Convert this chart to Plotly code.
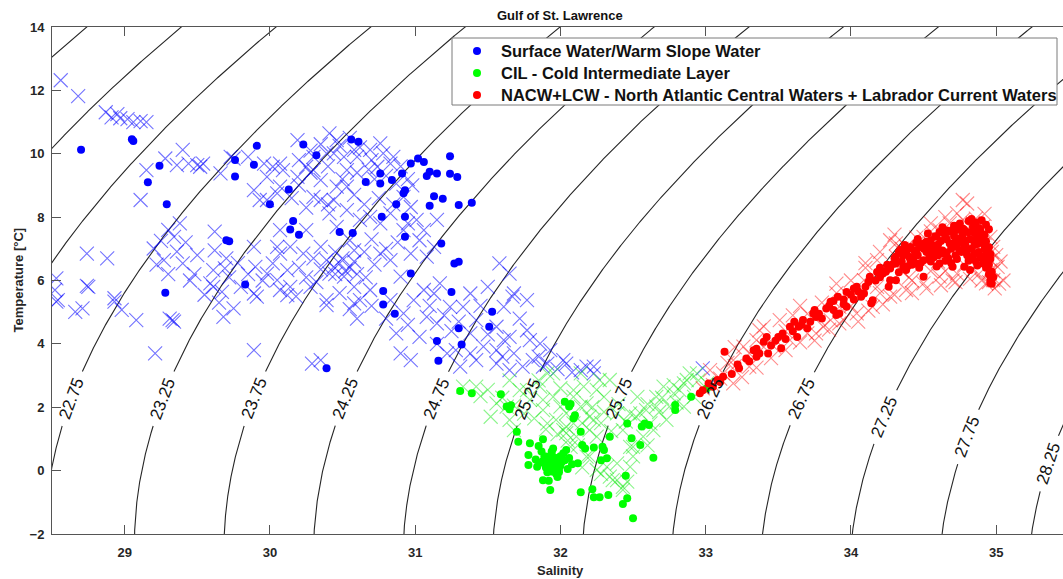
import numpy as np
import plotly.graph_objects as go

# ---------------- data (salinity, temperature) ----------------
blue_dots = [
    (28.70,10.13),(29.05,10.46),(29.06,10.40),(29.16,9.10),(29.24,9.62),(29.29,8.41),(29.76,9.80),(29.76,9.28),
    (29.91,10.25),(29.89,9.65),(30.00,8.41),(29.70,7.27),(29.72,7.24),(30.13,8.87),(30.16,7.88),(30.14,7.61),
    (30.20,7.44),(30.23,10.29),(30.32,9.95),(30.48,7.53),(30.57,7.50),(30.56,10.45),(30.61,10.38),(29.83,5.87),
    (29.28,5.61),(30.39,3.23),(30.66,9.11),(30.76,9.38),(30.76,9.06),(30.84,9.17),(30.91,9.38),(30.97,9.69),
    (31.02,9.85),(31.06,9.74),(31.08,9.30),(31.10,9.43),(31.15,9.38),(31.24,9.92),(31.24,9.37),(31.29,9.27),
    (30.93,8.85),(30.92,8.75),(31.13,8.66),(31.19,8.58),(31.10,8.36),(31.30,8.38),(31.39,8.45),(30.87,8.41),
    (30.77,8.01),(30.93,8.01),(30.93,7.38),(31.18,7.17),(31.27,6.54),(31.30,6.59),(30.97,6.22),(30.78,5.67),
    (31.25,5.64),(30.78,5.24),(30.86,4.95),(31.53,5.01),(31.30,4.49),(31.51,4.54),(31.15,4.09),(31.32,3.98),
    (31.16,3.47),
]
blue_crosses = [
    (28.56,12.32),(28.68,11.82),(28.87,11.31),(28.91,11.15),(28.95,11.25),(28.97,11.12),(29.02,11.09),(29.06,11.00),
    (29.11,11.03),(29.15,11.00),(29.11,8.54),(29.15,9.48),(29.28,9.85),(29.40,10.12),(29.44,9.69),(29.52,9.59),
    (29.36,9.64),(29.66,9.38),(29.73,9.90),(29.85,9.90),(29.96,9.69),(30.02,9.59),(29.98,9.27),(30.09,9.48),
    (30.19,9.27),(30.25,9.59),(30.30,9.48),(30.35,9.17),(30.41,10.64),(30.46,10.43),(30.39,10.01),(30.51,9.90),
    (30.58,10.12),(30.44,8.54),(30.53,8.96),(29.89,8.85),(29.93,8.54),(30.05,8.75),(30.30,8.64),(30.41,8.12),
    (28.74,6.85),(28.88,6.70),(28.53,6.07),(28.74,5.83),(28.54,5.38),(28.66,5.01),(28.71,5.12),(28.93,5.44),
    (28.98,5.07),(29.08,4.75),(29.21,3.70),(29.33,4.75),(29.34,4.70),(29.50,9.64),(29.54,9.69),(29.75,9.85),
    (29.98,8.54),(29.38,7.80),(29.34,7.38),(29.20,7.01),(29.36,6.91),(29.40,6.54),(29.27,6.64),(29.62,7.54),
    (29.61,6.33),(29.69,6.38),(29.59,5.91),(29.67,5.64),(29.75,5.12),(29.89,7.06),(29.90,6.43),(29.98,6.22),
    (30.02,6.54),(30.07,6.85),(29.89,5.59),(30.07,5.70),(29.89,3.80),(28.52,5.70),(28.53,5.33),(28.75,5.80),
    (28.93,5.33),(29.31,4.80),(29.61,5.80),(29.68,4.85),(29.91,5.49),(30.12,5.54),(30.29,3.38),(30.39,5.22),
    (30.58,5.28),(30.60,4.80),(30.07,9.69),(30.07,8.96),(30.19,10.43),(30.28,9.40),(30.44,10.01),(30.35,8.54),
    (30.46,8.96),(30.53,9.48),(30.60,9.90),(30.69,10.12),(30.76,10.33),(30.78,10.01),(30.83,9.69),(30.74,9.59),
    (30.87,9.06),(30.92,8.64),(30.97,8.32),(30.83,8.12),(30.76,7.80),(30.69,8.01),(30.62,7.91),(31.01,7.91),
    (31.06,7.59),(30.92,7.59),(30.53,8.22),(30.46,7.69),(30.55,7.27),(30.25,7.59),(30.07,7.59),(30.05,7.06),
    (30.14,7.06),(30.23,6.85),(30.35,7.06),(30.39,6.64),(30.44,6.43),(30.48,6.54),(30.41,6.22),(30.51,6.12),
    (30.12,6.33),(30.14,5.80),(30.05,6.01),(30.28,5.80),(30.39,5.38),(30.58,5.80),(30.62,5.38),(30.69,5.70),
    (30.76,6.85),(30.83,6.64),(30.90,6.12),(30.97,6.85),(31.03,7.27),(31.08,6.75),(31.13,7.06),(31.15,7.91),
    (30.83,5.38),(30.92,4.96),(30.99,5.38),(31.06,5.70),(31.13,5.59),(31.17,5.91),(31.24,5.17),(31.08,4.85),
    (31.15,4.65),(31.03,4.22),(30.87,4.33),(31.38,5.59),(31.33,5.17),(31.42,4.75),(31.38,4.33),(31.47,3.91),
    (31.58,6.54),(31.65,6.22),(31.68,5.59),(31.61,5.17),(31.56,4.54),(31.65,4.22),(30.35,3.49),(31.38,3.70),
    (31.22,3.70),(30.97,3.49),(30.90,3.70),(31.61,4.12),(31.68,3.70),(31.79,4.12),(31.81,3.49),(31.56,3.38),
    (31.42,3.49),(31.31,3.28),(31.65,3.17),(31.74,3.28),(31.93,3.80),(31.88,3.28),(32.02,3.49),(32.14,3.17),
    (32.18,3.28),(32.23,3.28),(32.98,3.23),(31.77,5.38),(31.67,5.49),(31.77,4.43),(31.86,4.01),(31.91,3.38),
    (32.04,3.38),(32.23,3.07),(31.56,3.80),(30.50,6.70),(30.55,6.40),(30.58,6.60),(30.45,6.90),(30.60,6.20),
    (30.52,6.30),(30.80,9.30),(30.90,9.60),(30.95,9.20),(30.85,9.90),(30.70,9.80),(30.98,9.00),
    (29.62,6.95),(29.70,6.70),(29.78,6.55),(29.85,6.20),(29.95,6.00),(29.72,6.10),(29.80,5.80),(29.65,5.30),
    (29.55,5.55),(29.48,6.20),(29.45,6.00),(29.30,6.20),(29.22,6.50),(29.25,7.25),(29.30,7.60),(29.42,7.20),
    (29.50,6.80),(30.20,9.80),(30.28,10.10),(30.35,10.30),(30.48,10.25),(30.55,10.50),(30.62,10.20),(30.68,9.50),
    (30.72,9.20),(30.60,9.40),(30.50,9.20),(30.40,9.60),(30.30,9.90),(30.20,9.00),(30.15,8.60),(30.25,8.30),
    (30.40,8.40),(30.58,8.70),(30.65,8.40),(30.75,8.60),(30.85,8.40),(30.95,7.80),(30.88,7.20),(30.80,7.00),
    (30.70,7.30),(30.65,6.90),(30.72,6.50),(30.66,6.10),(30.58,6.95),(30.45,6.20),(30.35,6.35),(30.30,6.70),
    (30.20,6.40),(30.25,6.10),(30.32,5.95),(30.18,5.50),(30.48,5.60),(30.55,5.10),(30.70,5.20),(30.80,4.80),
    (30.95,4.60),(31.10,5.20),(31.20,4.90),(31.30,4.70),(31.45,5.20),(31.50,5.80),(31.25,4.40),(31.15,4.00),
    (31.28,3.80),(31.50,4.30),(31.72,4.80),(31.60,3.60),(31.85,3.60),(31.98,3.20),(32.08,3.10),
]
green_dots = [
    (31.31,2.51),(31.39,2.44),(31.59,2.41),(31.63,2.02),(31.65,1.94),(32.03,2.17),(32.06,2.02),(32.09,1.65),
    (32.14,1.23),(31.70,1.23),(31.71,0.91),(31.79,0.86),(31.85,0.78),(31.88,0.99),(31.78,0.49),(31.78,0.18),
    (31.84,0.12),(31.91,0.44),(31.93,0.28),(31.96,0.18),(31.99,0.02),(31.94,-0.03),(32.01,0.28),(32.03,0.33),
    (32.04,0.65),(31.88,-0.30),(31.92,-0.32),(31.93,-0.61),(32.08,0.20),(32.12,0.23),(32.15,0.81),(32.17,0.70),
    (32.23,0.73),(32.30,0.65),(32.32,0.39),(32.28,0.33),(32.34,1.07),(32.46,1.49),(32.49,1.02),(32.55,0.81),
    (32.64,0.41),(32.45,-0.16),(32.14,-0.68),(32.22,-0.59),(32.23,-0.84),(32.27,-0.84),(32.33,-0.77),(32.46,-0.87),
    (32.43,-1.05),(32.50,-1.50),(32.58,1.49),(32.61,1.44),(32.79,1.91),(32.79,2.07),(32.90,2.33),(33.01,2.60),
    (31.90,0.20),(31.95,0.35),(31.98,0.10),(31.92,0.05),(31.97,-0.10),(32.00,0.45),(31.88,0.30),(31.94,0.52),
    (32.07,2.10),(32.10,1.75),(32.29,0.75),(32.56,1.39),(31.66,2.06),
    (31.90,0.10),(31.93,0.15),(31.95,0.25),(31.97,0.40),(31.99,0.30),(32.00,0.15),(31.96,0.05),(31.91,-0.05),
    (31.94,0.60),(32.02,0.55),(31.89,0.45),(31.86,0.25),(31.98,-0.20),(32.05,0.05),(31.92,0.35),(31.87,0.60),
    (32.06,0.40),(31.83,0.35),(31.95,0.70),(31.99,-0.05),
]
green_crosses = [
    (31.42,2.65),(31.56,2.12),(31.52,1.70),(31.65,1.60),(31.72,2.54),(31.79,2.23),(31.86,2.65),(31.88,1.91),
    (31.95,2.33),(31.97,1.60),(32.02,1.28),(32.04,1.81),(32.09,1.49),(32.14,2.02),(32.16,2.65),(32.20,1.70),
    (32.25,1.07),(32.30,2.33),(32.34,2.86),(32.39,1.81),(32.43,1.28),(32.48,0.75),(32.39,0.23),(32.34,-0.19),
    (32.48,0.12),(32.53,2.33),(32.59,1.91),(32.66,2.33),(32.71,2.65),(32.75,2.02),(32.82,2.54),(32.87,2.86),
    (32.94,3.07),(32.92,2.33),(33.01,2.75),(32.57,1.07),(32.62,1.49),(32.18,0.44),(32.25,0.02),(32.07,0.75),
    (32.39,-0.30),(32.43,-0.61),(31.68,1.28),(31.33,2.65),(31.95,3.07),(32.14,3.07),(32.27,2.86),(32.48,1.81),
    (32.73,1.60),(32.85,2.02),(32.09,2.33),(32.00,2.02),(32.04,1.39),(32.11,1.07),(32.20,1.28),(31.91,1.49),
    (31.91,3.07),(32.09,2.54),(32.04,1.18),(32.23,1.60),(32.32,0.12),(32.36,-0.30),(32.43,-0.51),(32.55,1.81),
    (32.66,2.02),(32.78,2.44),(32.85,2.75),(32.89,3.07),(32.64,1.28),(32.50,0.75),(32.18,2.12),(31.88,2.23),
    (31.77,2.54),(31.63,2.02),
    (31.45,2.35),(31.50,2.55),(31.60,2.30),(31.68,2.05),(31.75,1.80),(31.82,1.65),(31.90,1.30),(31.98,1.15),
    (32.05,0.95),(32.12,0.80),(32.15,1.50),(32.22,2.00),(32.28,1.50),(32.35,1.25),(32.45,1.55),(32.52,1.70),
    (32.60,2.10),(32.70,2.30),(32.78,2.70),(32.95,2.85),(32.68,1.85),(32.80,2.15),(32.40,2.10),(32.30,1.85),
    (31.85,2.85),(31.65,2.85),(32.00,2.60),(32.25,2.55),(32.50,0.45),(32.60,0.80),(32.20,0.45),(32.28,-0.10),
    (32.46,-0.35),(32.15,0.10),
]
red_dots = [
    (33.13,3.75),(33.02,2.75),(33.08,2.86),(33.12,2.96),(33.23,3.23),(33.28,3.54),(33.33,3.80),(33.37,3.70),
    (33.40,4.07),(33.43,3.70),(33.50,4.22),(33.53,4.33),(33.52,3.86),(33.58,4.54),(33.63,4.22),(33.61,4.70),
    (33.67,4.75),(33.70,4.49),(33.74,4.96),(33.75,5.07),(33.83,5.12),(33.86,5.33),(33.91,5.49),(33.90,4.91),
    (33.92,4.96),(33.97,5.64),(34.02,5.75),(34.04,5.80),(34.07,5.49),(34.09,5.59),(34.14,5.28),(34.15,5.38),
    (34.13,6.12),(34.18,6.27),(34.22,6.22),(34.27,6.38),(34.26,5.80),(34.31,6.54),(34.36,6.80),(34.38,6.91),
    (34.41,6.64),(34.45,6.96),(34.50,7.17),(34.52,7.22),(34.54,6.75),(34.59,7.38),(34.64,7.49),(34.68,7.54),
    (34.73,7.59),(34.77,7.64),(34.83,7.94),(34.90,7.90),(34.87,7.38),(34.91,7.17),(34.93,6.85),(34.64,6.85),
    (34.50,6.64),(34.38,6.33),(34.73,7.06),(34.80,6.96),(34.84,6.75),(34.41,7.06),(34.54,7.06),(34.31,6.01),
    (34.50,6.12),(34.61,6.54),(34.70,6.43),(34.82,6.33),(34.91,6.54),(34.89,7.54),(34.75,7.27),(34.68,7.17),
    (34.59,6.96),(34.45,6.54),(34.36,6.43),(34.27,6.01),(33.97,5.17),(33.88,5.07),(33.76,4.85),(33.64,4.54),
    (33.42,4.22),(33.35,3.59),(32.98,2.54),(32.96,2.44),
    (34.35,6.60),(34.40,6.75),(34.42,6.50),(34.46,6.80),(34.48,6.55),(34.52,6.90),(34.55,6.60),(34.57,7.10),
    (34.60,6.80),(34.62,7.25),(34.63,6.95),(34.66,7.30),(34.67,6.70),(34.69,7.00),(34.71,7.40),(34.72,6.80),
    (34.74,7.20),(34.76,6.90),(34.77,7.45),(34.79,7.10),(34.80,6.80),(34.82,7.30),(34.83,7.00),(34.85,7.50),
    (34.86,6.60),(34.87,7.15),(34.88,6.90),(34.90,7.30),(34.91,6.70),(34.92,7.00),(34.93,6.40),(34.94,6.60),
    (34.95,6.20),(34.96,6.00),(34.97,5.90),(34.89,7.60),(34.84,7.70),(34.78,7.60),(34.70,7.60),(34.58,7.40),
    (34.50,7.00),(34.45,7.20),(34.40,7.00),(34.33,6.90),(34.30,6.70),(34.25,6.50),(34.20,6.40),
    (34.81,7.88),(34.86,7.83),(34.93,7.76),(34.63,7.68),(34.71,7.73),(34.75,7.80),(34.88,7.66),(34.95,7.62),
    (34.53,7.48),(34.61,7.53),(34.66,7.58),(34.81,7.52),(34.92,7.44),(34.46,7.31),(34.55,7.27),(34.65,7.36),
    (34.73,7.33),(34.79,7.26),(34.86,7.29),(34.93,7.24),(34.37,7.12),(34.48,7.09),(34.60,7.14),(34.70,7.16),
    (34.78,7.07),(34.85,7.12),(34.95,7.05),(34.34,6.97),(34.44,6.89),(34.56,6.93),(34.66,6.88),(34.75,6.94),
    (34.85,6.86),(34.96,6.84),(34.31,6.76),(34.43,6.70),(34.57,6.73),(34.65,6.62),(34.73,6.68),(34.81,6.62),
    (34.89,6.75),(34.96,6.68),(34.29,6.52),(34.39,6.45),(34.47,6.40),(34.59,6.44),(34.69,6.55),(34.78,6.43),
    (34.87,6.47),(34.95,6.50),(34.24,6.28),(34.33,6.26),(34.97,6.28),(34.98,6.10),(34.96,5.92),
    (33.05,2.65),(33.10,2.80),(33.18,3.05),(33.22,3.35),(33.30,3.45),(33.35,3.85),(33.45,3.95),(33.48,4.10),
    (33.55,4.15),(33.60,4.40),(33.66,4.60),(33.72,4.70),(33.78,4.95),(33.80,4.80),(33.85,5.20),(33.95,5.40),
    (34.00,5.55),(34.05,5.65),(34.10,5.80),(34.12,5.95),(34.17,6.00),(34.20,6.10),(34.24,6.30),(33.88,5.35),
    (33.95,5.25),(34.02,5.40),
]
red_crosses = [
    (34.77,8.54),(34.73,8.12),(33.81,4.54),(33.92,4.65),(34.04,4.96),(34.15,5.17),(34.27,5.49),(34.38,5.70),
    (34.50,5.91),(34.61,6.12),(34.73,6.22),(34.84,6.33),(34.96,6.33),(34.98,6.01),(34.93,5.91),(34.96,6.64),
    (35.01,6.43),(34.98,7.06),(34.96,7.38),(34.91,7.69),(34.84,7.80),(34.77,7.91),(34.68,7.80),(34.61,7.59),
    (34.50,7.38),(34.38,7.06),(34.31,6.75),(34.27,7.27),(34.18,6.64),(33.70,4.33),(33.58,4.12),(33.51,4.75),
    (33.47,3.91),(33.35,4.12),(33.30,3.28),(33.26,3.91),(33.19,3.49),(33.12,3.07),(33.03,3.17),(33.19,2.75),
    (33.37,4.43),(33.76,4.33),(33.86,4.75),(33.92,5.17),(33.99,5.49),(34.09,6.01),(34.18,5.80),(34.31,7.17),
    (34.35,6.30),(34.42,6.00),(34.55,6.30),(34.65,6.30),(34.70,6.00),(34.78,6.50),(34.88,6.20),(34.95,5.95),
    (35.02,5.90),(35.05,6.00),(34.98,6.30),(34.97,6.90),(34.92,7.50),(34.86,7.95),(34.80,8.43),(34.55,7.55),
    (34.45,7.35),(34.35,7.00),(34.20,6.90),(34.10,6.40),(34.00,6.00),(33.90,5.60),(33.80,5.30),(33.70,4.95),
    (33.60,4.90),(33.55,4.40),(33.40,3.90),(33.30,3.70),(33.20,3.30),(33.10,2.90),(33.05,2.70),(32.98,2.60),
    (33.15,3.40),(34.00,5.20),(34.20,5.60),(34.40,6.10),(34.60,6.60),(34.85,6.90),
    (33.25,2.95),(33.35,3.25),(33.45,3.55),(33.55,3.80),(33.65,4.05),(33.75,4.10),(33.85,4.45),(33.95,4.75),
    (34.05,4.70),(34.12,5.05),(34.22,5.25),(34.30,5.55),(34.42,5.60),(34.52,5.75),(34.62,5.85),(34.72,5.95),
    (34.82,6.05),(34.90,6.00),(33.20,3.90),(33.40,4.55),(33.65,5.20),(33.90,5.90),(34.10,6.55),(34.30,7.45),
    (34.55,7.80),(34.65,8.00),(34.92,8.10),(35.03,6.60),(35.00,6.80),(34.99,5.75),
]

series_names = [
    "Surface Water/Warm Slope Water",
    "CIL - Cold Intermediate Layer",
    "NACW+LCW - North Atlantic Central Waters + Labrador Current Waters",
]
sigma_levels = [21.25, 21.75, 22.25, 22.75, 23.25, 23.75, 24.25, 24.75,
                25.25, 25.75, 26.25, 26.75, 27.25, 27.75, 28.25]
x_ticks = [29, 30, 31, 32, 33, 34, 35]
y_ticks = [-2, 0, 2, 4, 6, 8, 10, 12, 14]

# ---------------- layout constants ----------------
W, H = 1063, 579
ML, MR, MT, MB = 52, 0, 27, 45
X_RANGE = [28.5, 35.46]
Y_RANGE = [-2, 14]
FONT = "Liberation Sans, Arial, Helvetica, sans-serif"
AXC = "#555555"
TXT = "#262626"
# temperature at which each isopycnal carries its inline label
label_temp = {22.75: 2.28, 23.25: 2.28, 23.75: 2.28, 24.25: 2.28, 24.75: 2.28,
              25.25: 2.28, 25.75: 2.28, 26.25: 2.28, 26.75: 2.28,
              27.25: 1.70, 27.75: 1.07, 28.25: 0.23}
LABEL_GAP = 29  # px radius of the break in the line around a label

PW = W - ML - MR
PH = H - MT - MB
kx = PW / (X_RANGE[1] - X_RANGE[0])
ky = PH / (Y_RANGE[1] - Y_RANGE[0])


def px_to_paper_x(px):
    return (px - ML) / PW


def px_to_paper_y(py):
    return (H - MB - py) / PH


def sigma_t(S, T):
    """Density anomaly (UNESCO EOS-80, p=0), salinity entered as absolute salinity."""
    S = np.asarray(S, float) * 35.0 / 35.16504
    T = np.asarray(T, float)
    rw = (999.842594 + 6.793952e-2 * T - 9.095290e-3 * T**2 + 1.001685e-4 * T**3
          - 1.120083e-6 * T**4 + 6.536332e-9 * T**5)
    A = 8.24493e-1 - 4.0899e-3 * T + 7.6438e-5 * T**2 - 8.2467e-7 * T**3 + 5.3875e-9 * T**4
    B = -5.72466e-3 + 1.0227e-4 * T - 1.6546e-6 * T**2
    C = 4.8314e-4
    return rw + A * S + B * S**1.5 + C * S**2 - 1000.0


def salinity_on_isopycnal(level, T):
    T = np.atleast_1d(np.asarray(T, float))
    lo = np.full_like(T, 15.0)
    hi = np.full_like(T, 45.0)
    for _ in range(60):
        mid = 0.5 * (lo + hi)
        f = sigma_t(mid, T) - level
        hi = np.where(f > 0, mid, hi)
        lo = np.where(f > 0, lo, mid)
    return 0.5 * (lo + hi)


def to_list(a):
    return [None if np.isnan(v) else float(v) for v in a]


fig = go.Figure()
annotations = []
shapes = []

T_line = np.linspace(-2.6, 14.6, 1400)
for lvl in sigma_levels:
    S_line = salinity_on_isopycnal(lvl, T_line)
    xs, ys = S_line.copy(), T_line.copy()
    if lvl in label_temp:
        Tl = label_temp[lvl]
        Sl = float(salinity_on_isopycnal(lvl, Tl)[0])
        d = np.hypot((S_line - Sl) * kx, (T_line - Tl) * ky)
        mask = d < LABEL_GAP
        xs[mask] = np.nan
        ys[mask] = np.nan
        s_up = float(salinity_on_isopycnal(lvl, Tl + 0.05)[0])
        s_dn = float(salinity_on_isopycnal(lvl, Tl - 0.05)[0])
        ang = -np.degrees(np.arctan2(0.1 * ky, (s_up - s_dn) * kx))
        if X_RANGE[0] < Sl < X_RANGE[1]:
            annotations.append(dict(x=Sl, y=Tl, xref="x", yref="y", text=f"{lvl:.2f}",
                                    showarrow=False, textangle=ang, xanchor="center",
                                    yanchor="middle",
                                    font=dict(family=FONT, size=17, color="#111111")))
    fig.add_trace(go.Scatter(x=to_list(xs), y=to_list(ys), mode="lines",
                             line=dict(color="#262626", width=1.1),
                             hoverinfo="skip", showlegend=False, connectgaps=False))

cross_sets = [(blue_crosses, "rgba(0,0,255,0.55)"),
              (green_crosses, "rgba(0,230,0,0.45)"),
              (red_crosses, "rgba(255,0,0,0.45)")]
for pts, col in cross_sets:
    fig.add_trace(go.Scatter(
        x=[p[0] for p in pts], y=[p[1] for p in pts], mode="markers",
        marker=dict(symbol="x-thin", size=14, line=dict(color=col, width=1.1)),
        showlegend=False, hoverinfo="skip"))

dot_colors = ["#0000ff", "#00ff00", "#ff0000"]
dot_sets = [blue_dots, green_dots, red_dots]
for pts, col, name in zip(dot_sets, dot_colors, series_names):
    fig.add_trace(go.Scatter(
        x=[p[0] for p in pts], y=[p[1] for p in pts], mode="markers", name=name,
        marker=dict(symbol="circle", size=8, color=col, line=dict(width=0)),
        showlegend=False))

# ---- legend drawn as a box with markers and text (matches the compact MATLAB legend) ----
LEG_L, LEG_R, LEG_T, LEG_B = 452, 1057, 38, 105
LEG_ROWS = [51, 73, 95]
shapes.append(dict(type="rect", xref="paper", yref="paper",
                   x0=px_to_paper_x(LEG_L), x1=px_to_paper_x(LEG_R),
                   y0=px_to_paper_y(LEG_B), y1=px_to_paper_y(LEG_T),
                   fillcolor="white", line=dict(color="#7a7a7a", width=1), layer="above"))
for row_y, col, name in zip(LEG_ROWS, dot_colors, series_names):
    shapes.append(dict(type="circle", xref="paper", yref="paper",
                       xsizemode="pixel", ysizemode="pixel",
                       xanchor=px_to_paper_x(477), yanchor=px_to_paper_y(row_y),
                       x0=-4, x1=4, y0=-4, y1=4,
                       fillcolor=col, line=dict(width=0), layer="above"))
    annotations.append(dict(text=f"<b>{name}</b>", xref="paper", yref="paper",
                            x=px_to_paper_x(499), y=px_to_paper_y(row_y),
                            xanchor="left", yanchor="middle", showarrow=False,
                            font=dict(family=FONT, size=16.5, color="#111111")))

annotations += [
    dict(text="<b>Gulf of St. Lawrence</b>", xref="paper", yref="paper",
         x=px_to_paper_x(560), y=px_to_paper_y(15), showarrow=False,
         xanchor="center", yanchor="middle", font=dict(family=FONT, size=13, color="#111111")),
    dict(text="<b>Salinity</b>", xref="paper", yref="paper",
         x=px_to_paper_x(560), y=px_to_paper_y(570), showarrow=False,
         xanchor="center", yanchor="middle", font=dict(family=FONT, size=13, color=TXT)),
    dict(text="<b>Temperature [°C]</b>", xref="paper", yref="paper",
         x=px_to_paper_x(18), y=0.5, showarrow=False, textangle=-90,
         xanchor="center", yanchor="middle", font=dict(family=FONT, size=13, color=TXT)),
]

tickfont = dict(family=FONT, size=13, color=TXT, weight="bold")

fig.update_layout(
    width=W, height=H,
    margin=dict(l=ML, r=MR, t=MT, b=MB, pad=0),
    plot_bgcolor="white", paper_bgcolor="white",
    xaxis=dict(range=X_RANGE, tickvals=x_ticks, ticklabelstandoff=6,
               ticks="inside", ticklen=9, tickcolor=AXC, tickwidth=1,
               showline=True, linecolor=AXC, linewidth=1, mirror="ticks",
               showgrid=False, zeroline=False, tickfont=tickfont),
    yaxis=dict(range=Y_RANGE, tickvals=y_ticks, ticklabelstandoff=4,
               ticks="inside", ticklen=9, tickcolor=AXC, tickwidth=1,
               showline=True, linecolor=AXC, linewidth=1, mirror=False,
               showgrid=False, zeroline=False, tickfont=tickfont),
    # right-hand box edge lies just outside the picture: only the tips of its ticks show
    yaxis2=dict(range=Y_RANGE, tickvals=y_ticks, overlaying="y", side="right",
                ticks="inside", ticklen=5, tickcolor=AXC, tickwidth=1,
                showline=False, showgrid=False, zeroline=False, showticklabels=False),
    annotations=annotations,
    shapes=shapes,
    showlegend=False,
)

fig.write_html("out.html")
